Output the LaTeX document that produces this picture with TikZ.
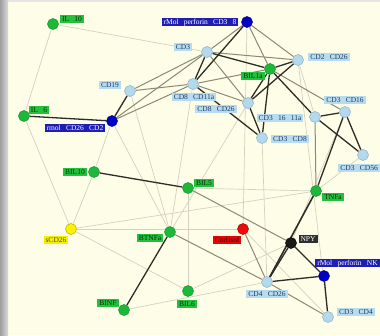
\documentclass[tikz,border=0pt]{standalone}
\usepackage{fontspec}
\setmainfont{Liberation Serif}[WordSpace=2.8]
\definecolor{bgc}{HTML}{FEFDE8}
\definecolor{gfill}{HTML}{1DB83A}
\definecolor{gdraw}{HTML}{12902A}
\definecolor{glab}{HTML}{22C03C}
\definecolor{gtext}{HTML}{0A300A}
\definecolor{bfill}{HTML}{0000C8}
\definecolor{bdraw}{HTML}{00007A}
\definecolor{blab}{HTML}{1E1EB4}
\definecolor{lfill}{HTML}{B4D8EC}
\definecolor{ldraw}{HTML}{88B0C8}
\definecolor{llab}{HTML}{B8DCEE}
\definecolor{ltext}{HTML}{1A3A6A}
\definecolor{yfill}{HTML}{FFF200}
\definecolor{ydraw}{HTML}{B8A800}
\definecolor{ylab}{HTML}{F6F000}
\definecolor{rfill}{HTML}{EE0A0A}
\definecolor{rlab}{HTML}{E00808}
\definecolor{kfill}{HTML}{1A1A1A}
\definecolor{klab}{HTML}{2E2E2E}
\definecolor{edark}{HTML}{2E2C26}
\definecolor{emid}{HTML}{8C8874}
\definecolor{elight}{HTML}{D4D2BE}
\pgfdeclarelayer{back}
\pgfdeclarelayer{bg}
\pgfsetlayers{back,bg,main}
\begin{document}
\begin{tikzpicture}[x=1pt,y=-1pt,
  nd/.style={circle,minimum size=11pt,inner sep=0pt,line width=0.5pt},
  gn/.style={nd,fill=gfill,draw=gdraw},
  bn/.style={nd,fill=bfill,draw=bdraw},
  ln/.style={nd,fill=lfill,draw=ldraw},
  yn/.style={nd,fill=yfill,draw=ydraw},
  rn/.style={nd,fill=rfill,draw=red!60!black},
  kn/.style={nd,fill=kfill,draw=black},
  lb/.style={inner xsep=2pt,inner ysep=1pt,text height=5.3pt,text depth=1.3pt,font=\fontsize{7.5}{8}\selectfont},
  lg/.style={lb,fill=glab,text=gtext},
  lbl/.style={lb,fill=blab,text=white},
  ll/.style={lb,fill=llab,text=ltext},
  ly/.style={lb,fill=ylab,text=black!70},
  lr/.style={lb,fill=rlab,text=red!30!black},
  lk/.style={lb,fill=klab,text=white},
  ed/.style={draw=edark,line width=1.3pt},
  em/.style={draw=emid,line width=1pt},
  el/.style={draw=elight,line width=0.7pt}]
\useasboundingbox (0,0) rectangle (380,335);
\begin{pgfonlayer}{back}
\fill[bgc] (0,0) rectangle (380,335);
\shade[left color=black!38, right color=black!14] (0,0) rectangle (8,335);
\fill[black!10] (8,0) rectangle (380,2);
\end{pgfonlayer}
% nodes
\node[gn] (il10) at (53,24) {};
\node[gn] (il6) at (24,116) {};
\node[bn] (rmol) at (112,121) {};
\node[bn] (rmolcd) at (247,22) {};
\node[ln] (cd3) at (207,52) {};
\node[ln] (cd2cd26) at (298,60) {};
\node[gn] (bil1a) at (270,69) {};
\node[ln] (cd19) at (130,91) {};
\node[ln] (cd8cd11a) at (193,84) {};
\node[ln] (cd8cd26) at (248,103) {};
\node[ln] (cd31611a) at (315,117) {};
\node[ln] (cd3cd16) at (345,112) {};
\node[ln] (cd3cd8) at (262,138) {};
\node[ln] (cd3cd56) at (363,155) {};
\node[gn] (bil10) at (94,172) {};
\node[gn] (bil5) at (188,188) {};
\node[gn] (tnfa) at (316,191) {};
\node[yn] (scd26) at (71,229) {};
\node[gn] (btnfa) at (170,232) {};
\node[rn] (cortisol) at (243,229) {};
\node[kn] (npy) at (291,243) {};
\node[bn] (rmolnk) at (324,276) {};
\node[ln] (cd4cd26) at (267,282) {};
\node[ln] (cd3cd4) at (328,317) {};
\node[gn] (bil6) at (188,291) {};
\node[gn] (binf) at (124,310) {};
% labels
\node[lg] (t-il10) at (72,19) {IL 10};
\node[lg] (t-il6) at (39,110) {IL 6};
\node[lbl] (t-rmol) at (75,128) {rmol CD26 CD2};
\node[lbl] (t-rmolcd) at (200,22) {rMol perforin CD3 8};
\node[ll] (t-cd3) at (183,47) {CD3};
\node[ll] (t-cd2cd26) at (329,57) {CD2 CD26};
\node[lg] (t-bil1a) at (253,76) {BIL1a};
\node[ll] (t-cd19) at (110,85) {CD19};
\node[ll] (t-cd8cd11a) at (194,97) {CD8 CD11a};
\node[ll] (t-cd8cd26) at (216,109) {CD8 CD26};
\node[ll] (t-cd31611a) at (280,118) {CD3 16 11a};
\node[ll] (t-cd3cd16) at (345,100) {CD3 CD16};
\node[ll] (t-cd3cd8) at (290,139) {CD3 CD8};
\node[ll,anchor=east] (t-cd3cd56) at (380,168) {CD3 CD56};
\node[lg] (t-bil10) at (75,172) {BIL10};
\node[lg] (t-bil5) at (204,183) {BIL5};
\node[lg] (t-tnfa) at (333,197) {TNFa};
\node[ly] (t-scd26) at (56,240) {sCD26};
\node[lg] (t-btnfa) at (150,238) {BTNFa};
\node[lr] (t-cortisol) at (227,240) {Cortisol};
\node[lk] (t-npy) at (308,239) {NPY};
\node[lbl,anchor=east] (t-rmolnk) at (380,263) {rMol perforin NK};
\node[ll] (t-cd4cd26) at (267,294) {CD4 CD26};
\node[ll] (t-cd3cd4) at (356,312) {CD3 CD4};
\node[lg] (t-bil6) at (187,304) {BIL6};
\node[lg] (t-binf) at (108,303) {BINF};
% edges
\begin{pgfonlayer}{bg}
% light
\draw[el] (il10) -- (il6);
\draw[el] (il10) -- (cd3);
\draw[el] (il6) -- (scd26);
\draw[el] (rmol) -- (bil10);
\draw[el] (bil10) -- (scd26);
\draw[el] (scd26) -- (cortisol);
\draw[el] (scd26) -- (bil6);
\draw[el] (scd26) -- (tnfa);
\draw[el] (rmol) -- (btnfa);
\draw[el] (cd19) -- (btnfa);
\draw[el] (bil5) -- (bil6);
\draw[el] (bil5) -- (tnfa);
\draw[el] (bil6) -- (npy);
\draw[el] (binf) -- (cd4cd26);
\draw[el] (rmolcd) -- (cortisol);
\draw[el] (cd3cd8) -- (cd4cd26);
\draw[el] (cd2cd26) -- (cd3cd4);
\draw[el] (cd2cd26) -- (cd31611a);
\draw[el] (cd3cd56) -- (tnfa);
\draw[el] (cd3cd16) -- (npy);
\draw[el] (cd8cd26) -- (btnfa);
\draw[el] (cortisol) -- (cd3cd4);
\draw[el] (cd8cd11a) -- (btnfa);
% medium
\draw[em] (rmolcd) -- (cd3);
\draw[em] (rmolcd) -- (bil1a);
\draw[em] (rmolcd) -- (cd2cd26);
\draw[em] (cd3) -- (cd2cd26);
\draw[em] (cd3) -- (cd8cd26);
\draw[em] (rmol) -- (cd3);
\draw[em] (rmol) -- (cd8cd11a);
\draw[em] (cd19) -- (cd3);
\draw[em] (cd19) -- (cd8cd11a);
\draw[em] (cd8cd11a) -- (cd8cd26);
\draw[em] (cd8cd11a) -- (bil1a);
\draw[em] (bil1a) -- (cd3cd16);
\draw[em] (cd31611a) -- (tnfa);
\draw[em] (bil5) -- (npy);
\draw[em] (btnfa) -- (cd4cd26);
\draw[em] (cortisol) -- (cd4cd26);
\draw[em] (cd4cd26) -- (cd3cd4);
% dark
\draw[ed] (il6) -- (rmol);
\draw[ed] (rmol) -- (cd19);
\draw[ed] (rmolcd) -- (cd8cd11a);
\draw[ed] (cd3) -- (cd8cd11a);
\draw[ed] (cd3) -- (bil1a);
\draw[ed] (cd8cd11a) -- (cd3cd8);
\draw[ed] (cd8cd26) -- (cd2cd26);
\draw[ed] (cd8cd26) -- (bil1a);
\draw[ed] (cd8cd26) -- (cd3cd8);
\draw[ed] (bil1a) -- (cd2cd26);
\draw[ed] (bil1a) -- (cd3cd8);
\draw[ed] (bil1a) -- (cd31611a);
\draw[ed] (cd31611a) -- (cd3cd16);
\draw[ed] (cd31611a) -- (cd3cd56);
\draw[ed] (cd3cd16) -- (cd3cd56);
\draw[ed] (cd3cd16) -- (tnfa);
\draw[ed,line width=1.6pt] (tnfa) -- (cd4cd26);
\draw[ed] (npy) -- (cd4cd26);
\draw[ed] (npy) -- (rmolnk);
\draw[ed] (cd4cd26) -- (rmolnk);
\draw[ed] (rmolnk) -- (cd3cd4);
\draw[ed] (bil10) -- (bil5);
\draw[ed] (btnfa) -- (binf);
\end{pgfonlayer}
\end{tikzpicture}
\end{document}
